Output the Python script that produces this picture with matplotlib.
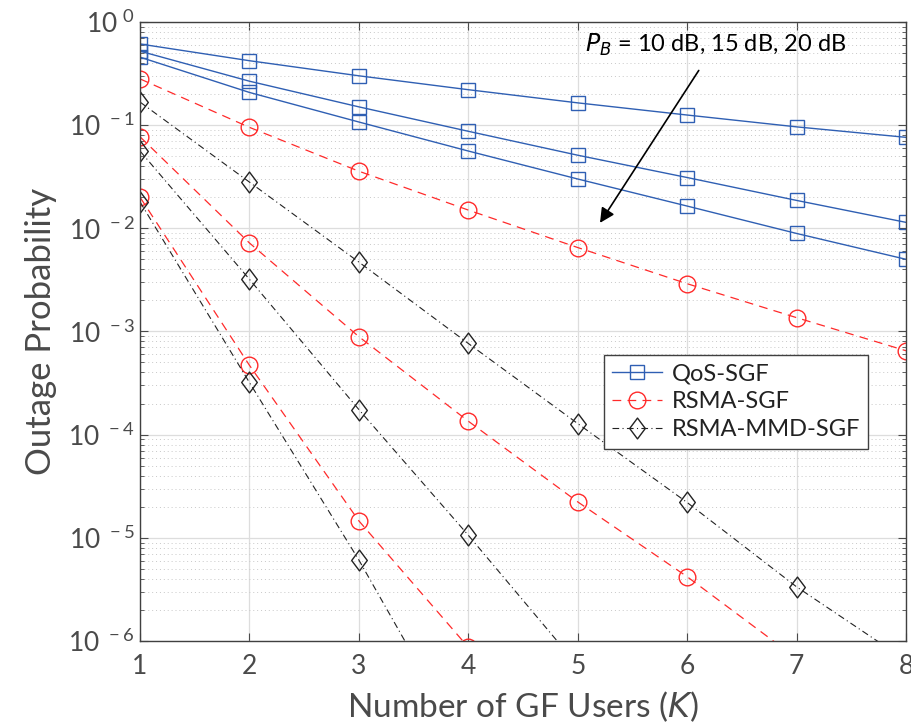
import numpy as np
import matplotlib
matplotlib.use('Agg')
import matplotlib.pyplot as plt
from matplotlib.path import Path
from matplotlib.ticker import FixedLocator, LogLocator, NullFormatter

# -----------------------------------------------------
# Data (outage probability vs number of GF users K)

users = [1, 2, 3, 4, 5, 6, 7, 8]
powerLabels = ['10 dB', '15 dB', '20 dB']

# QoS-SGF, one list per P_B
qos10 = [0.61, 0.42, 0.30, 0.22, 0.164, 0.125, 0.096, 0.076]
qos15 = [0.52, 0.266, 0.15, 0.087, 0.051, 0.031, 0.0186, 0.0114]
qos20 = [0.455, 0.207, 0.107, 0.056, 0.030, 0.0164, 0.0089, 0.0050]

# RSMA-SGF
rsma10 = [0.28, 0.095, 0.0357, 0.015, 0.0065, 0.0029, 0.00136, 0.00065]
rsma15 = [0.077, 0.0072, 8.9e-4, 1.35e-4, 2.23e-5, 4.2e-6, 6.8e-7, 1.3e-7]
rsma20 = [0.020, 4.7e-4, 1.46e-5, 8.7e-7]

# RSMA-MMD-SGF
mmd10 = [0.167, 0.028, 0.0047, 7.65e-4, 1.28e-4, 2.2e-5, 3.35e-6, 6.5e-7]
mmd15 = [0.056, 0.0032, 1.75e-4, 1.06e-5, 5.8e-7]
mmd20 = [0.018, 3.2e-4, 6.1e-6, 8.3e-8]

yTickVals = [1e-6, 1e-5, 1e-4, 1e-3, 1e-2, 1e-1, 1e0]
yTickExps = ['-6', '-5', '-4', '-3', '-2', '-1', '0']

# -----------------------------------------------------
# Plot

plt.rcParams['font.family'] = ['Lato', 'DejaVu Sans']
textGray = '#4a4a4a'
blue = '#2f5fb3'
red = '#ff2a2a'

# MATLAB style diamond: a bit taller than wide
tallDiamond = Path([(0, 1), (0.75, 0), (0, -1), (-0.75, 0), (0, 1)],
                   [Path.MOVETO, Path.LINETO, Path.LINETO, Path.LINETO, Path.CLOSEPOLY])

fig = plt.figure(figsize=(9.12, 7.28), dpi=100)
ax = fig.add_axes([0.1535, 0.1195, 0.9934 - 0.1535, 0.970 - 0.1195])

def plotSeries(vals, color, ls, marker, ms, lw, label=None):
    ax.plot(users[:len(vals)], vals, color=color, linestyle=ls, linewidth=lw,
            marker=marker, markersize=ms, markerfacecolor='none',
            markeredgecolor=color, markeredgewidth=1.0, label=label)

plotSeries(qos10, blue, '-', 's', 10, 1.0, 'QoS-SGF')
plotSeries(qos15, blue, '-', 's', 10, 1.0)
plotSeries(qos20, blue, '-', 's', 10, 1.0)

plotSeries(rsma10, red, (0, (7, 5)), 'o', 12, 0.9, 'RSMA-SGF')
plotSeries(rsma15, red, (0, (7, 5)), 'o', 12, 0.9)
plotSeries(rsma20, red, (0, (7, 5)), 'o', 12, 0.9)

dashDot = (0, (6, 3, 1, 3))
plotSeries(mmd10, '#222222', dashDot, tallDiamond, 15, 0.8, 'RSMA-MMD-SGF')
plotSeries(mmd15, '#222222', dashDot, tallDiamond, 15, 0.8)
plotSeries(mmd20, '#222222', dashDot, tallDiamond, 15, 0.8)

ax.set_yscale('log')
ax.set_xlim(1, 8)
ax.set_ylim(1e-6, 1)

ax.set_xticks(users)
ax.set_xticklabels([str(u) for u in users])
ax.yaxis.set_major_locator(FixedLocator(yTickVals))
ax.set_yticklabels([r'$\mathregular{10^{\ ' + e + '}}$' for e in yTickExps])
ax.yaxis.set_minor_locator(LogLocator(base=10, subs=np.arange(2, 10), numticks=20))
ax.yaxis.set_minor_formatter(NullFormatter())

ax.tick_params(which='both', direction='in', top=True, right=True,
               colors=textGray, labelsize=19)
ax.tick_params(which='major', length=6, width=0.8)
ax.tick_params(which='minor', length=3, width=0.6)
ax.tick_params(axis='x', pad=9)
for sp in ax.spines.values():
    sp.set_color('#404040')
    sp.set_linewidth(1.0)

ax.grid(True, which='major', color='#dddddd', linewidth=0.9)
ax.grid(True, which='minor', axis='y', color='#c8c8c8', linestyle=(0, (1, 3)), linewidth=0.7)
ax.set_axisbelow(True)

ax.set_xlabel('Number of GF Users ($\\mathit{K}$)', fontsize=24, color=textGray, labelpad=8)
ax.set_ylabel('Outage Probability', fontsize=25, color=textGray, labelpad=8)

# annotation for the power levels
ax.annotate('', xy=(5.19, 1.07e-2), xytext=(6.12, 0.356),
            arrowprops=dict(arrowstyle='-|>', color='black', lw=1.2,
                            mutation_scale=22))
ax.text(5.07, 0.60, '$\\mathit{P_B}$ = ' + ', '.join(powerLabels),
        fontsize=17, color='black', va='center', ha='left')

leg = ax.legend(loc='upper left', bbox_to_anchor=(0.606, 0.462), fontsize=17,
                frameon=True, fancybox=False, framealpha=1.0, handlelength=2.1,
                borderpad=0.35, labelspacing=0.3, handletextpad=0.4,
                borderaxespad=0.0)
leg.get_frame().set_edgecolor('#404040')
leg.get_frame().set_linewidth(1.0)
for t in leg.get_texts():
    t.set_color('#222222')

fig.savefig('out.png', dpi=100)
